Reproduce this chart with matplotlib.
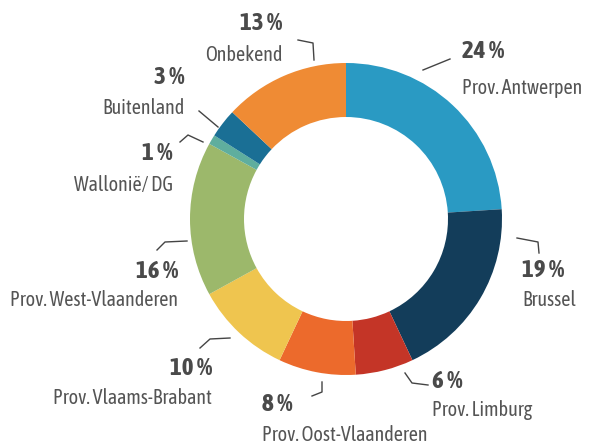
import matplotlib.pyplot as plt

# data
regions = ["Prov. Antwerpen", "Brussel", "Prov. Limburg", "Prov. Oost-Vlaanderen",
           "Prov. Vlaams-Brabant", "Prov. West-Vlaanderen", "Wallonië/ DG",
           "Buitenland", "Onbekend"]
shares = [24, 19, 6, 8, 10, 16, 1, 3, 13]
colors = ["#2a9ac3", "#133d5a", "#c43527", "#ec6a2c", "#efc54f",
          "#9cb86b", "#5fae9e", "#1a6f95", "#ef8b34"]

# layout (pixel coords): pct text pos, label text pos, alignment, leader line
label_pos = [
    ((462, 52), (462, 88), "left", [(423, 70), (450, 59)]),
    ((522, 270), (522, 300), "left", [(517, 238), (538, 242), (539, 253)]),
    ((432, 381), (432, 410), "left", [(405, 373), (412, 383), (428, 385)]),
    ((262, 404), (262, 435), "left", [(322, 382), (322, 392), (312, 396)]),
    ((212, 368), (212, 398), "right", [(230, 338), (210, 339), (200, 348)]),
    ((178, 271), (178, 300), "right", [(187, 241), (165, 242), (157, 250)]),
    ((173, 153), (173, 185), "right", [(203, 142), (188, 135), (180, 142)]),
    ((185, 77), (185, 108), "right", [(199, 111), (218, 127)]),
    ((282, 24), (282, 55), "right", [(298, 40), (313, 43), (314, 60)]),
]

fig = plt.figure(figsize=(5.9, 4.44), dpi=100)
ax = fig.add_axes([0, 0, 1, 1])

ax.pie(shares, colors=colors, startangle=-90, counterclock=True,
       center=(346, 219), radius=156,
       wedgeprops=dict(width=54, edgecolor="none"))
ax.set_xlim(0, 590)
ax.set_ylim(444, 0)
ax.set_aspect("equal")
ax.axis("off")

font = ["Asap Condensed", "Barlow Semi Condensed", "Liberation Sans Narrow", "DejaVu Sans"]
for name, val, (pp, lp, ha, line) in zip(regions, shares, label_pos):
    ax.text(pp[0], pp[1], f"{val} %", ha=ha, va="center", fontsize=18,
            fontweight="bold", color="#4a4a4a", family=font)
    ax.text(lp[0], lp[1], name, ha=ha, va="center", fontsize=14.5,
            color="#555555", family=font)
    xs, ys = zip(*line)
    ax.plot(xs, ys, color="#444444", lw=1.0)

fig.savefig("out.png", dpi=100)
